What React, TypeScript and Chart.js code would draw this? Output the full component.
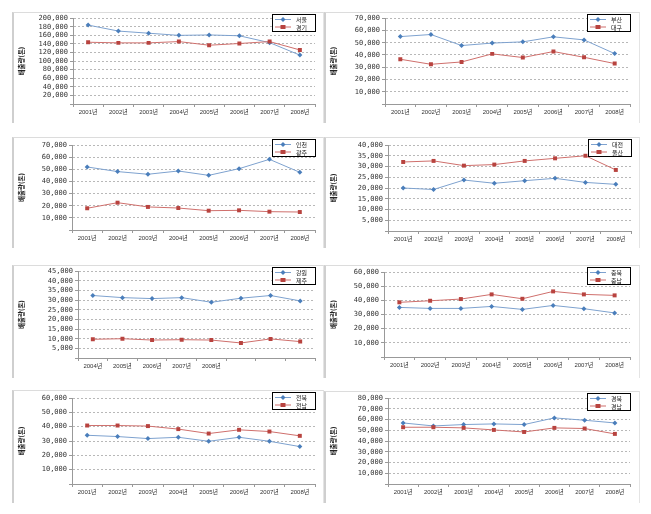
import React, { useEffect, useRef } from 'react';
import { Chart, registerables } from 'chart.js';

Chart.register(...registerables);

// ---------- data ----------
const YEARS = ['2001년', '2002년', '2003년', '2004년', '2005년', '2006년', '2007년', '2008년'];
const YEARS_GANGWON = ['2004년', '2005년', '2006년', '2007년', '2008년', '', '', ''];

const seoul = [184000, 170000, 165000, 160000, 161000, 159000, 143000, 114000];
const gyeonggi = [144000, 142500, 142500, 145500, 137000, 141000, 145500, 126000];
const busan = [55000, 56700, 47700, 49700, 50700, 54800, 52300, 41100];
const daegu = [36500, 32400, 34300, 40900, 37900, 42800, 38100, 33000];
const incheon = [51900, 48100, 45900, 48600, 45000, 50500, 58200, 47500];
const gwangju = [17900, 22500, 19000, 18100, 15900, 16200, 15100, 14800];
const daejeon = [20000, 19300, 23700, 22200, 23400, 24500, 22600, 21700];
const ulsan = [32100, 32600, 30400, 30900, 32600, 33800, 35000, 28400];
const gangwon = [32400, 31300, 30800, 31300, 28900, 31000, 32400, 29600];
const jeju = [9700, 10000, 9300, 9500, 9300, 7800, 9900, 8500];
const chungbuk = [35000, 34300, 34300, 35700, 33600, 36400, 34100, 31100];
const chungnam = [38600, 39700, 40900, 44200, 41100, 46300, 44200, 43500];
const jeonbuk = [34000, 33100, 31700, 32600, 29800, 32600, 29800, 26100];
const jeonnam = [40800, 40800, 40400, 38300, 35200, 37800, 36600, 33600];
const gyeongbuk = [56800, 54000, 55300, 55900, 55300, 61500, 59300, 56800];
const gyeongnam = [52800, 52800, 52200, 50300, 48400, 52200, 51600, 46600];

const Y_TITLE = '배출량(톤)';

// ---------- styles ----------
const BLUE_LINE = '#7ea2cf';
const BLUE_MARK = '#4a7ebb';
const RED_LINE = '#cf6f6c';
const RED_MARK = '#b8433f';
const FONT_NUM = "'DejaVu Sans Mono', 'Noto Sans CJK KR', sans-serif";
const FONT_KR = "'Liberation Sans', 'Noto Sans CJK KR', sans-serif";

const boxLegend = {
  id: 'boxLegend',
  afterDraw(chart: any) {
    const { ctx, chartArea } = chart;
    const w = 44;
    const h = 18;
    const x = Math.round(chartArea.right - w + 1);
    const y = 2;
    ctx.save();
    ctx.fillStyle = '#ffffff';
    ctx.fillRect(x, y, w, h);
    ctx.strokeStyle = '#000000';
    ctx.lineWidth = 1;
    ctx.strokeRect(x + 0.5, y + 0.5, w - 1, h - 1);
    chart.data.datasets.forEach((ds: any, i: number) => {
      const cy = y + 5.5 + i * 7.5;
      ctx.strokeStyle = ds.borderColor;
      ctx.lineWidth = 1;
      ctx.beginPath();
      ctx.moveTo(x + 3, cy);
      ctx.lineTo(x + 19, cy);
      ctx.stroke();
      ctx.fillStyle = ds.pointBackgroundColor;
      const mx = x + 11;
      if (ds.pointStyle === 'rect') {
        ctx.fillRect(mx - 2.5, cy - 2, 5, 4);
      } else {
        ctx.beginPath();
        ctx.moveTo(mx, cy - 2.5);
        ctx.lineTo(mx + 2.5, cy);
        ctx.lineTo(mx, cy + 2.5);
        ctx.lineTo(mx - 2.5, cy);
        ctx.closePath();
        ctx.fill();
      }
      ctx.fillStyle = '#222';
      ctx.font = "6px 'Noto Sans CJK KR', sans-serif";
      ctx.textBaseline = 'middle';
      ctx.textAlign = 'left';
      ctx.fillText(ds.label, x + 24, cy + 0.5);
    });
    ctx.restore();
  },
};

type PanelProps = {
  left: number;
  top: number;
  w: number;
  h: number;
  pl: number;
  pt: number;
  pb: number;
  pr: number;
  labels: string[];
  n1: string;
  d1: number[];
  n2: string;
  d2: number[];
  max: number;
  step: number;
};

function Panel(p: PanelProps) {
  const ref = useRef<HTMLCanvasElement>(null);
  useEffect(() => {
    if (!ref.current) return;
    const chart = new Chart(ref.current, {
      type: 'line',
      data: {
        labels: p.labels,
        datasets: [
          {
            label: p.n1,
            data: p.d1,
            borderColor: BLUE_LINE,
            borderWidth: 1,
            pointStyle: 'rectRot',
            pointRadius: 2.5,
            pointBackgroundColor: BLUE_MARK,
            pointBorderColor: BLUE_MARK,
            pointBorderWidth: 0,
            tension: 0,
            order: 1,
          },
          {
            label: p.n2,
            data: p.d2,
            borderColor: RED_LINE,
            borderWidth: 1,
            pointStyle: 'rect',
            pointRadius: 2.8,
            pointBackgroundColor: RED_MARK,
            pointBorderColor: RED_MARK,
            pointBorderWidth: 0,
            tension: 0,
            order: 0,
          },
        ],
      },
      options: {
        responsive: false,
        animation: false,
        events: [],
        layout: { padding: { left: 0, top: p.pt, right: p.w - p.pr, bottom: 0 } },
        plugins: { legend: { display: false }, tooltip: { enabled: false }, title: { display: false } },
        scales: {
          x: {
            type: 'category',
            offset: true,
            grid: { offset: true, drawOnChartArea: false, drawTicks: true, tickLength: 3, color: '#999' },
            border: { color: '#999', width: 1 },
            ticks: {
              autoSkip: false,
              maxRotation: 0,
              minRotation: 0,
              padding: 2,
              color: '#333',
              font: { family: FONT_KR, size: 6 },
            },
            afterFit: (s: any) => {
              s.height = p.h - p.pb;
            },
          },
          y: {
            min: 0,
            max: p.max,
            grid: {
              color: '#b8b8b8',
              tickColor: '#999',
              tickLength: 3,
              tickBorderDash: [],
            },
            border: { color: '#999', width: 1, dash: [2, 2] },
            ticks: {
              stepSize: p.step,
              autoSkip: false,
              padding: 2,
              color: '#333',
              font: { family: FONT_NUM, size: 7 },
              callback: (v: any) => (v === 0 ? '' : Number(v).toLocaleString('en-US')),
            },
            title: {
              display: true,
              text: Y_TITLE,
              color: '#222',
              font: { family: "'Noto Sans CJK KR', sans-serif", size: 6.5, weight: 'bold' },
              padding: { top: 6, bottom: 0 },
            },
            afterFit: (s: any) => {
              s.width = p.pl;
            },
          },
        },
      } as any,
      plugins: [boxLegend as any],
    });
    return () => chart.destroy();
  }, []);
  return (
    <div style={{ position: 'absolute', left: p.left, top: p.top, width: p.w, height: p.h }}>
      <canvas ref={ref} width={p.w} height={p.h} style={{ position: 'absolute', left: 0, top: 0, width: p.w, height: p.h }} />
      <div
        style={{
          position: 'absolute',
          left: 0,
          top: 0,
          width: p.w,
          height: p.h,
          boxSizing: 'border-box',
          borderTop: '1px solid #dcdcdc',
          borderLeft: '2px solid #cfcfcf',
          borderRight: '1px solid #e4e4e4',
          pointerEvents: 'none',
        }}
      />
    </div>
  );
}

export default function App() {
  return (
    <div style={{ position: 'absolute', left: 0, top: 0, width: 651, height: 514, background: '#fff', overflow: 'hidden' }}>
      <Panel left={12} top={12} w={312} h={111} pl={61} pt={6} pb={92} pr={303} labels={YEARS} n1="서울" d1={seoul} n2="경기" d2={gyeonggi} max={200000} step={20000} />
      <Panel left={324} top={12} w={316} h={111} pl={61} pt={6} pb={92} pr={306} labels={YEARS} n1="부산" d1={busan} n2="대구" d2={daegu} max={70000} step={10000} />
      <Panel left={12} top={137} w={312} h={111} pl={60} pt={8} pb={93} pr={303} labels={YEARS} n1="인천" d1={incheon} n2="광주" d2={gwangju} max={70000} step={10000} />
      <Panel left={324} top={137} w={316} h={111} pl={64} pt={8} pb={94} pr={307} labels={YEARS} n1="대전" d1={daejeon} n2="울산" d2={ulsan} max={40000} step={5000} />
      <Panel left={12} top={265} w={312} h={113} pl={66} pt={6} pb={93} pr={303} labels={YEARS_GANGWON} n1="강원" d1={gangwon} n2="제주" d2={jeju} max={45000} step={5000} />
      <Panel left={324} top={265} w={316} h={113} pl={60} pt={7} pb={92} pr={306} labels={YEARS} n1="충북" d1={chungbuk} n2="충남" d2={chungnam} max={60000} step={10000} />
      <Panel left={12} top={390} w={312} h={113} pl={60} pt={8} pb={94} pr={303} labels={YEARS} n1="전북" d1={jeonbuk} n2="전남" d2={jeonnam} max={60000} step={10000} />
      <Panel left={324} top={391} w={316} h={112} pl={64} pt={7} pb={93} pr={306} labels={YEARS} n1="경북" d1={gyeongbuk} n2="경남" d2={gyeongnam} max={80000} step={10000} />
    </div>
  );
}
